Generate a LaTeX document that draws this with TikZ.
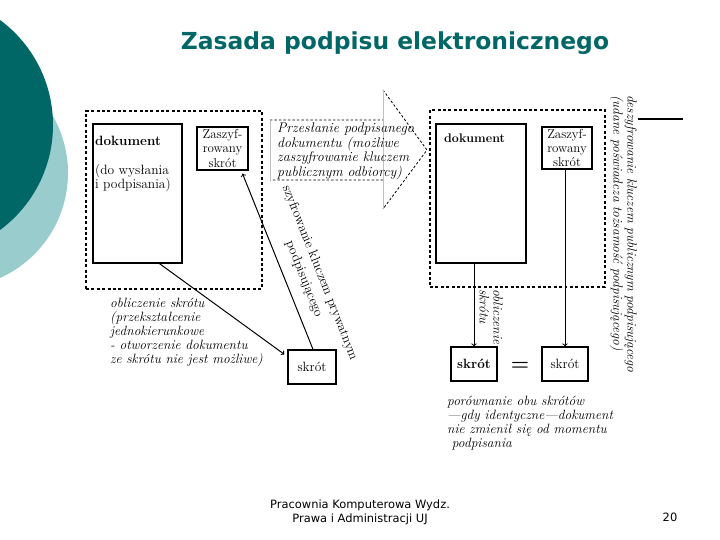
\documentclass[tikz,border=0pt]{standalone}
\usepackage{fontspec}
\newfontfamily\slidefont{DejaVu Sans}
\definecolor{tealdark}{RGB}{0,102,102}
\definecolor{teallight}{RGB}{153,204,204}

\begin{document}
\begin{tikzpicture}[x=1bp, y=-1bp,
    font=\fontsize{13.5}{15}\selectfont,
    box/.style={draw, line width=1.3pt, inner sep=0pt},
    grp/.style={draw, line width=1.1pt, dash pattern=on 3pt off 2.4pt},
    note/.style={font=\fontsize{13.5}{14}\selectfont\itshape, align=left, inner sep=0pt, anchor=north west},
    conn/.style={->, line width=1pt}
    ]
    \useasboundingbox (0,0) rectangle (720,540);
    \clip (0,0) rectangle (720,540);
    \fill[teallight] (-47,173) circle[radius=115bp];
    \fill[tealdark] (-77.5,125) circle[radius=130.5bp];
    \node[font=\slidefont\bfseries\fontsize{23.5}{28}\selectfont, text=tealdark] (title) at (395,43) {Zasada podpisu elektronicznego};

    \node[grp, minimum width=176bp, minimum height=178bp] (g1) at (174,200) {};
    \node[box, minimum width=89bp, minimum height=139bp] (d1) at (137.5,193.5) {};
    \node[note, font=\fontsize{13.5}{14.5}\selectfont] (t1) at (95,136) {\textbf{dokument}\\[14.5bp](do wysłania\\ i podpisania)};
    \node[box, minimum width=51bp, minimum height=43bp, align=center, font=\fontsize{13}{14.5}\selectfont] (z1) at (222.5,148.5) {Zaszyf-\\rowany\\skrót};
    \node[box, minimum width=48bp, minimum height=34bp] (s1) at (312,367) {skrót};
    \node[note] (t2) at (110,298) {obliczenie skrótu\\ (przekształcenie\\ jednokierunkowe\\ - otworzenie dokumentu\\ ze skrótu nie jest możliwe)};
 \draw[conn] ([xshift=22bp]d1.south) -- ([xshift=-3bp,yshift=-5bp]s1.north west);
 \draw[conn] ([xshift=1bp]s1.north) -- ([xshift=20bp,yshift=-3bp]z1.south);
    \node[rotate=-68.5, align=center, font=\fontsize{13.5}{17}\selectfont] (l1) at (312,276) {szyfrowanie kluczem prywatnym\\ podpisującego};

    \draw[dash pattern=on 2.5pt off 2pt, line width=.8pt] (270,120) -- (383,120) (383,180) -- (270,180) (383,90) -- (427,150) -- (383,209);
    \draw[black!25, line width=.8pt] (270,120) -- (270,180) (383,90) -- (383,209);
    \node[note, font=\fontsize{14}{14.6}\selectfont\itshape] (t3) at (277,123) {Przesłanie podpisanego\\ dokumentu (możliwe\\ zaszyfrowanie kluczem\\ publicznym odbiorcy)};

    \node[grp, minimum width=175bp, minimum height=177bp] (g2) at (517.5,198.5) {};
    \node[box, minimum width=90bp, minimum height=139bp] (d2) at (481,193.5) {};
    \node[anchor=north west, inner sep=0pt, font=\fontsize{12.5}{14}\selectfont] (t4) at (444,134) {\textbf{dokument}};
    \node[box, minimum width=50bp, minimum height=42bp, align=center, font=\fontsize{13}{14.5}\selectfont] (z2) at (567,148) {Zaszyf-\\rowany\\skrót};
    \node[box, minimum width=46bp, minimum height=34bp] (s2) at (474,364) {\textbf{skrót}};
    \node[box, minimum width=46bp, minimum height=34bp] (s3) at (565,364) {skrót};
 \draw[conn] (s2.north |- d2.south) -- (s2.north);
 \draw[conn] (s3.north |- z2.south) -- (s3.north);
    \node (eq) at (520,366) {\fontsize{21}{21}\selectfont\bfseries =};
    \node[note, rotate=-90] (l2) at (503,289) {obliczenie\\ skrótu};
    \node[note, rotate=-90] (l3) at (637,95) {deszyfrowanie kluczem publicznym podpisującego\\ (udane poświadcza tożsamość podpisującego)};
    \node[note] (t5) at (447,396) {porównanie obu skrótów\\ ---gdy identyczne---dokument\\ nie zmienił się od momentu\\ \ podpisania};
 \draw[line width=1.5pt] (638,119) -- (683,119);

    \node[font=\slidefont\fontsize{11.5}{14}\selectfont, align=center] (ft) at (360,512) {Pracownia Komputerowa Wydz.\\ Prawa i Administracji UJ};
    \node[font=\slidefont\fontsize{11.5}{14}\selectfont] (pg) at (670,517) {20};
\end{tikzpicture}
\end{document}
